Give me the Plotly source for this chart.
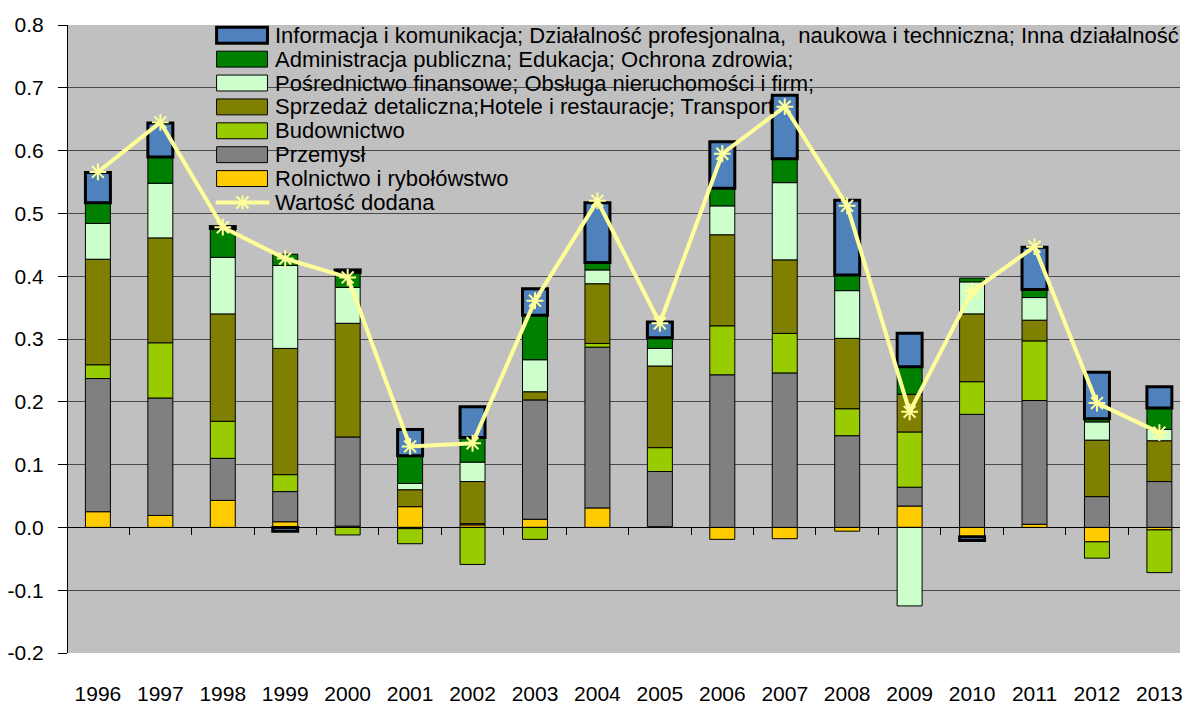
import plotly.graph_objects as go

# ---------------- data ----------------
years = [str(y) for y in range(1996, 2014)]

rolnictwo = [0.025, 0.019, 0.043, 0.009, 0.002, 0.033, 0.004, 0.013, 0.031, 0.001,
             -0.019, -0.018, -0.006, 0.034, -0.015, 0.005, -0.023, -0.004]
przemysl = [0.212, 0.187, 0.067, 0.048, 0.142, -0.002, 0.002, 0.190, 0.256, 0.088,
            0.243, 0.246, 0.146, 0.030, 0.180, 0.197, 0.049, 0.073]
budownictwo = [0.022, 0.088, 0.059, 0.027, -0.012, -0.024, -0.059, -0.019, 0.006, 0.038,
               0.078, 0.063, 0.043, 0.088, 0.052, 0.095, -0.026, -0.068]
sprzedaz = [0.168, 0.167, 0.171, 0.201, 0.181, 0.027, 0.067, 0.013, 0.095, 0.130,
            0.145, 0.117, 0.112, 0.060, 0.108, 0.033, 0.090, 0.065]
posrednictwo = [0.057, 0.087, 0.090, 0.132, 0.057, 0.010, 0.031, 0.051, 0.022, 0.028,
                0.046, 0.123, 0.076, -0.125, 0.051, 0.036, 0.029, 0.018]
administracja = [0.033, 0.042, 0.046, 0.018, 0.024, 0.044, 0.039, 0.071, 0.012, 0.017,
                 0.028, 0.038, 0.025, 0.044, 0.006, 0.013, 0.005, 0.034]
informacja = [0.048, 0.054, 0.003, -0.006, 0.004, 0.042, 0.049, 0.042, 0.095, 0.025,
              0.074, 0.101, 0.119, 0.053, -0.006, 0.067, 0.074, 0.034]
wartosc_dodana = [0.566, 0.645, 0.478, 0.428, 0.398, 0.129, 0.134, 0.361, 0.520, 0.325,
                  0.595, 0.670, 0.512, 0.184, 0.376, 0.447, 0.198, 0.151]

y_tick_values = [-0.2, -0.1, 0.0, 0.1, 0.2, 0.3, 0.4, 0.5, 0.6, 0.7, 0.8]
y_tick_labels = ["-0.2", "-0.1", "0.0", "0.1", "0.2", "0.3", "0.4", "0.5", "0.6", "0.7", "0.8"]

names = [
    "Informacja i komunikacja; Działalność profesjonalna,\u00a0 naukowa i techniczna; Inna działalność",
    "Administracja publiczna; Edukacja; Ochrona zdrowia;",
    "Pośrednictwo finansowe; Obsługa nieruchomości i firm;",
    "Sprzedaż detaliczna;Hotele i restauracje; Transport",
    "Budownictwo",
    "Przemysł",
    "Rolnictwo i rybołówstwo",
    "Wartość dodana",
]

# ---------------- styles ----------------
colors = ["#4F81BD", "#008000", "#CCFFCC", "#808000", "#99CC00", "#808080", "#FFCC00"]
border_w = [3, 1, 1, 1, 1, 1, 1]
line_color = "#FFFF99"
FONT = "Liberation Sans, Arial, sans-serif"

W, H = 1183, 705
L, R, T, B = 68, 0, 25, 49
PW, PH = W - L - R, H - T - B


def px(x):
    return (x - L) / PW


def py(y):
    return (H - B - y) / PH


series_vals = [informacja, administracja, posrednictwo, sprzedaz, budownictwo, przemysl, rolnictwo]

fig = go.Figure()
# stack from bottom: rolnictwo first
for i in reversed(range(7)):
    fig.add_trace(go.Bar(
        x=years, y=series_vals[i], name=names[i],
        marker=dict(color=colors[i], line=dict(color="black", width=border_w[i])),
        showlegend=False,
    ))

fig.add_trace(go.Scatter(
    x=years, y=wartosc_dodana, name=names[7], mode="lines+markers",
    line=dict(color=line_color, width=4),
    marker=dict(symbol="asterisk-open", size=14, color=line_color,
                line=dict(color=line_color, width=2)),
    showlegend=False,
))

# invisible helper trace for the axis at y=0 (category tick marks)
fig.add_trace(go.Scatter(x=years, y=wartosc_dodana, xaxis="x2", mode="lines",
                         opacity=0, hoverinfo="skip", showlegend=False))

xr = [-0.479, 17.33]

# ---------------- manual legend ----------------
shapes = []
annotations = []
row0 = 35.3
step = 24
for i in range(8):
    cy = row0 + i * step
    if i < 7:
        shapes.append(dict(type="rect", xref="paper", yref="paper",
                           x0=px(217), x1=px(268), y0=py(cy - 8), y1=py(cy + 8),
                           fillcolor=colors[i],
                           line=dict(color="black", width=border_w[i] if i == 0 else 1)))
    else:
        shapes.append(dict(type="line", xref="paper", yref="paper",
                           x0=px(216), x1=px(270), y0=py(cy), y1=py(cy),
                           line=dict(color=line_color, width=4)))
        cx = 243
        for dx, dy in [(0, 7), (6, 6), (-6, 6)]:
            shapes.append(dict(type="line", xref="paper", yref="paper",
                               x0=px(cx - dx), x1=px(cx + dx),
                               y0=py(cy - dy), y1=py(cy + dy),
                               line=dict(color=line_color, width=2)))
    annotations.append(dict(xref="paper", yref="paper", x=px(274), y=py(cy),
                            xanchor="left", yanchor="middle", text=names[i],
                            showarrow=False, font=dict(family=FONT, size=22, color="black")))

fig.update_layout(
    width=W, height=H,
    margin=dict(l=L, r=R, t=T, b=B, pad=0),
    paper_bgcolor="white",
    plot_bgcolor="#C0C0C0",
    barmode="relative",
    bargap=0.6,
    font=dict(family=FONT, size=21, color="black"),
    shapes=shapes,
    annotations=annotations,
    xaxis=dict(type="category", range=xr, showgrid=False, showline=False, zeroline=False,
               ticks="outside", ticklen=22, tickcolor="rgba(0,0,0,0)",
               tickfont=dict(family=FONT, size=21, color="black")),
    xaxis2=dict(type="category", overlaying="x", anchor="free", position=0.2,
                range=xr, categoryorder="array", categoryarray=years,
                showgrid=False, showline=True, linecolor="black", linewidth=1,
                ticks="outside", tickson="boundaries", ticklen=7, tickcolor="black",
                showticklabels=False, zeroline=False),
    yaxis=dict(range=[-0.2, 0.8], tickvals=y_tick_values, ticktext=y_tick_labels,
               showgrid=True, gridcolor="#4a4a4a", gridwidth=1,
               zeroline=True, zerolinecolor="black", zerolinewidth=1,
               showline=True, linecolor="black", linewidth=1,
               ticks="outside", ticklen=9, tickcolor="black", ticklabelstandoff=10,
               tickfont=dict(family=FONT, size=21, color="black")),
)

fig.write_html(
    "out.html",
    config={"displayModeBar": False},
    post_script="document.body.style.margin='0';document.body.style.padding='0';"
                "document.body.style.overflow='hidden';",
)
